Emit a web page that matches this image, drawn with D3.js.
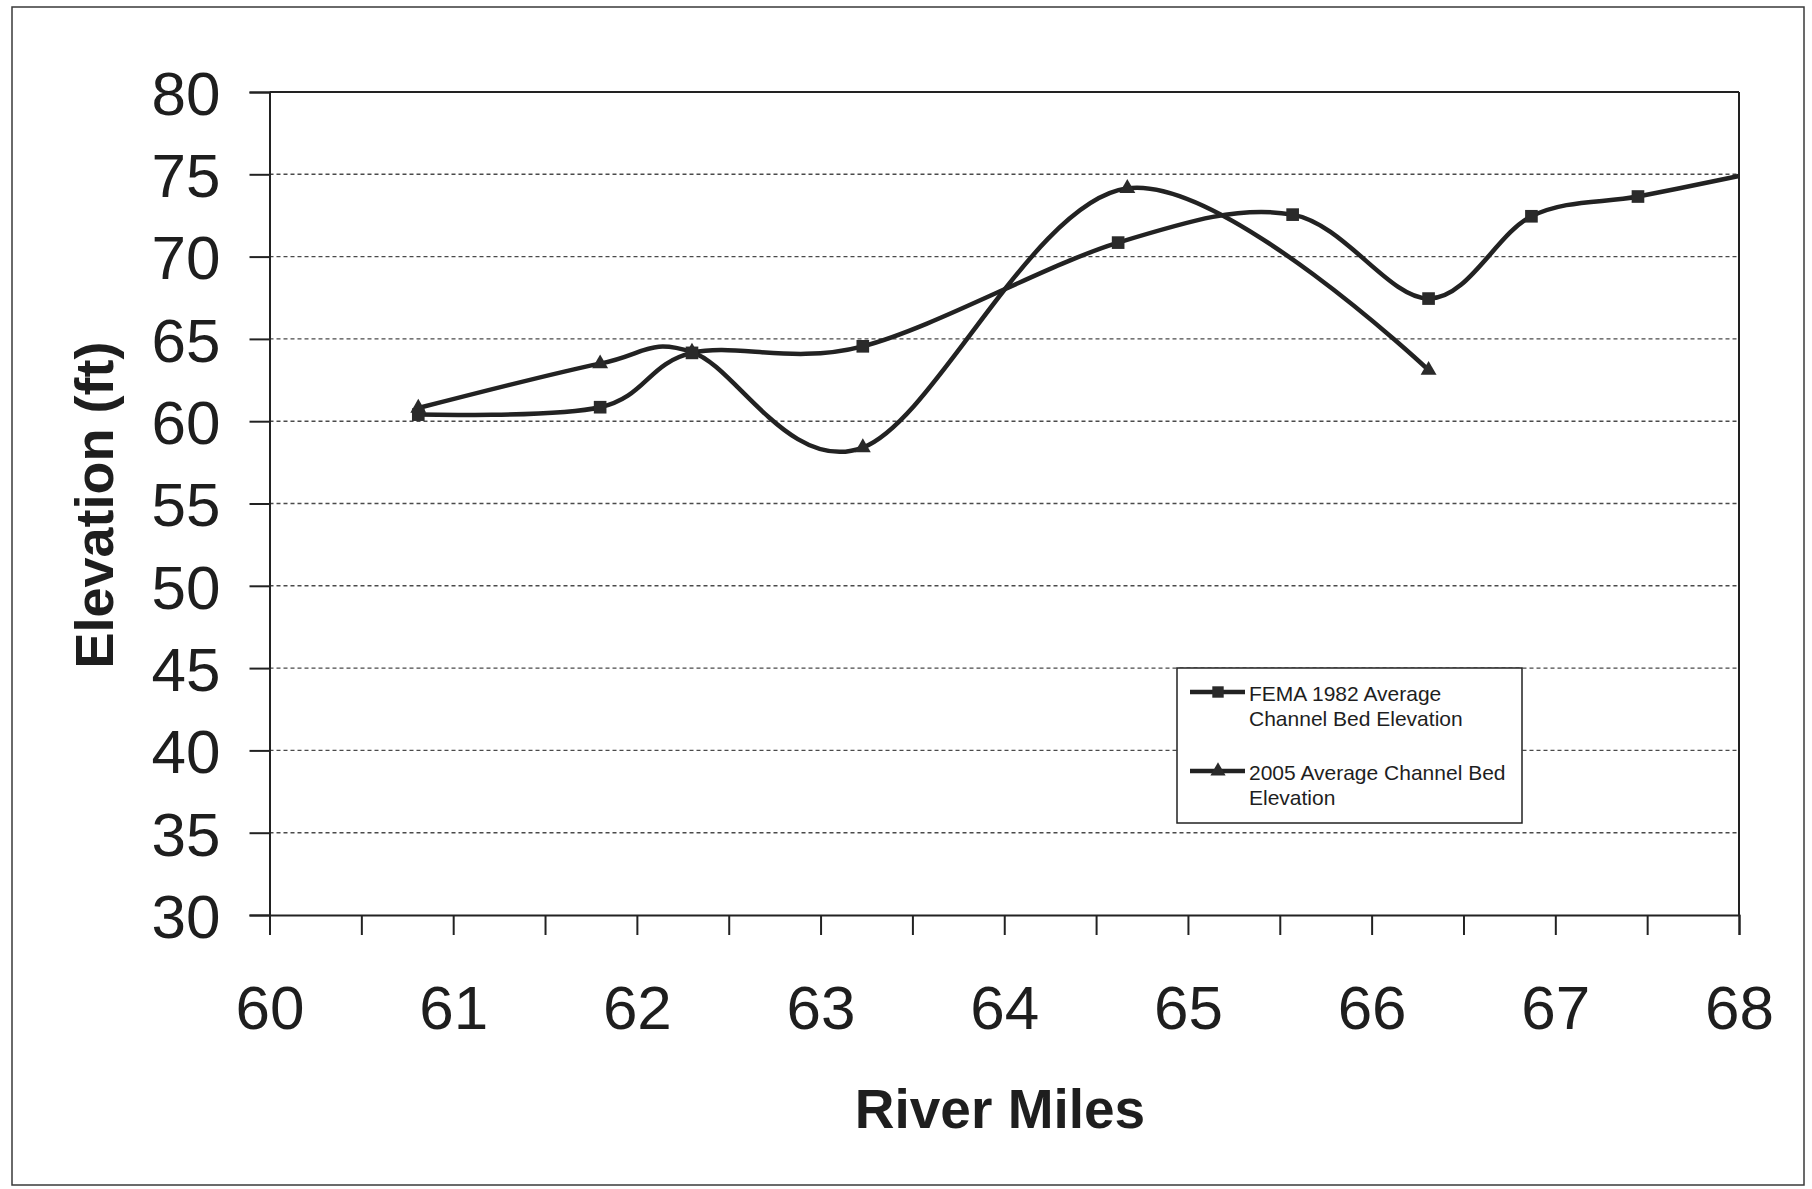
<!DOCTYPE html>
<html>
<head>
<meta charset="utf-8">
<script src="https://cdn.jsdelivr.net/npm/d3@7"></script>
<style>
  html, body { margin: 0; padding: 0; background: #fff; }
  svg { display: block; }
  text { font-family: "Liberation Sans", Arial, sans-serif; fill: #1e1e1e; }
</style>
</head>
<body>
<svg id="chart" width="1812" height="1189"></svg>
<script>
// River mile stations and average channel bed elevations (ft)
const femaMiles = [60.81, 61.80, 62.30, 63.23, 64.62, 65.57, 66.31, 66.87, 67.45, 68.00];
const femaElev  = [60.4, 60.85, 64.15, 64.55, 70.85, 72.55, 67.45, 72.45, 73.65, 74.9];

const survey2005Miles = [60.81, 61.80, 62.30, 63.23, 64.67, 66.31];
const survey2005Elev  = [60.8, 63.5, 64.2, 58.4, 74.15, 63.1];

const xTickValues = [60, 61, 62, 63, 64, 65, 66, 67, 68];
const yTickValues = [30, 35, 40, 45, 50, 55, 60, 65, 70, 75, 80];

const seriesNames = [
  ["FEMA 1982 Average", "Channel Bed Elevation"],
  ["2005 Average Channel Bed", "Elevation"]
];

const svg = d3.select("#chart");
const ink = "#222";

// outer chart frame
svg.append("rect")
  .attr("x", 12).attr("y", 7).attr("width", 1792).attr("height", 1178)
  .attr("fill", "none").attr("stroke", "#3a3a3a").attr("stroke-width", 1.5);

const plotLeft = 269.5, plotRight = 1739, plotTop = 92, plotBottom = 915;

const x = d3.scaleLinear().domain([60, 68]).range([plotLeft, plotRight]);
const y = d3.scaleLinear().domain([30, 80]).range([plotBottom, plotTop]);

// horizontal gridlines
svg.append("g").selectAll("line")
  .data(yTickValues.filter(v => v > 30 && v < 80))
  .join("line")
  .attr("x1", plotLeft).attr("x2", plotRight)
  .attr("y1", d => y(d)).attr("y2", d => y(d))
  .attr("stroke", "#4a4a4a").attr("stroke-width", 1.4)
  .attr("stroke-dasharray", "4,3");

// plot area top and right edges
svg.append("line").attr("x1", plotLeft).attr("x2", plotRight).attr("y1", plotTop).attr("y2", plotTop)
  .attr("stroke", ink).attr("stroke-width", 2);
svg.append("line").attr("x1", plotRight).attr("x2", plotRight).attr("y1", plotTop).attr("y2", plotBottom)
  .attr("stroke", ink).attr("stroke-width", 2);

// y axis
const yAxis = d3.axisLeft(y).tickValues(yTickValues).tickSize(20).tickPadding(29)
  .tickFormat(d3.format("d"));
const gy = svg.append("g").attr("transform", `translate(${plotLeft},0)`).call(yAxis);
gy.select(".domain").attr("stroke", ink).attr("stroke-width", 2);
gy.selectAll(".tick line").attr("stroke", ink).attr("stroke-width", 2);
gy.selectAll(".tick text")
  .style("font-family", '"Liberation Sans", Arial, sans-serif')
  .style("font-size", "62px").attr("fill", "#1e1e1e").attr("dy", "0.36em");

// x axis with half-mile minor ticks
const xAxisMinor = d3.axisBottom(x).tickValues(d3.range(60, 68.01, 0.5)).tickSize(20).tickFormat("");
const gxm = svg.append("g").attr("transform", `translate(0,${plotBottom})`).call(xAxisMinor);
gxm.select(".domain").attr("stroke", ink).attr("stroke-width", 2);
gxm.selectAll(".tick line").attr("stroke", ink).attr("stroke-width", 2);

const xAxis = d3.axisBottom(x).tickValues(xTickValues).tickSize(0).tickPadding(70)
  .tickFormat(d3.format("d"));
const gx = svg.append("g").attr("transform", `translate(0,${plotBottom})`).call(xAxis);
gx.select(".domain").remove();
gx.selectAll(".tick text")
  .style("font-family", '"Liberation Sans", Arial, sans-serif')
  .style("font-size", "62px").attr("fill", "#1e1e1e").attr("dy", "0.71em");

// axis titles
svg.append("text")
  .attr("x", 1000).attr("y", 1128)
  .attr("text-anchor", "middle")
  .style("font-size", "55px").style("font-weight", "bold")
  .text("River Miles");

svg.append("text")
  .attr("transform", "translate(113,505) rotate(-90)")
  .attr("text-anchor", "middle")
  .style("font-size", "54px").style("font-weight", "bold")
  .text("Elevation (ft)");

// smoothed series lines
const line = d3.line()
  .x(d => x(d[0])).y(d => y(d[1]))
  .curve(d3.curveCardinal.tension(0));

const fema = femaMiles.map((m, i) => [m, femaElev[i]]);
const s2005 = survey2005Miles.map((m, i) => [m, survey2005Elev[i]]);

svg.append("path").datum(s2005).attr("d", line)
  .attr("fill", "none").attr("stroke", ink).attr("stroke-width", 4.5)
  .attr("stroke-linejoin", "round");
svg.append("path").datum(fema).attr("d", line)
  .attr("fill", "none").attr("stroke", ink).attr("stroke-width", 4.5)
  .attr("stroke-linejoin", "round");

const triangle = d3.symbol().type(d3.symbolTriangle).size(110);
const square = d3.symbol().type(d3.symbolSquare).size(160);

svg.append("g").selectAll("path")
  .data(s2005).join("path")
  .attr("transform", d => `translate(${x(d[0])},${y(d[1])})`)
  .attr("d", triangle).attr("fill", "#2a2a2a");

svg.append("g").selectAll("path")
  .data(fema.filter(d => d[0] < 68)).join("path")
  .attr("transform", d => `translate(${x(d[0])},${y(d[1])})`)
  .attr("d", square).attr("fill", "#2a2a2a");

// legend
const lg = svg.append("g");
lg.append("rect")
  .attr("x", 1177).attr("y", 668).attr("width", 345).attr("height", 155)
  .attr("fill", "#fff").attr("stroke", ink).attr("stroke-width", 1.5);

const legendRows = [
  { y: 692, shape: d3.symbolSquare, size: 130, lines: seriesNames[0] },
  { y: 771, shape: d3.symbolTriangle, size: 100, lines: seriesNames[1] }
];
legendRows.forEach(r => {
  lg.append("line").attr("x1", 1190).attr("x2", 1245).attr("y1", r.y).attr("y2", r.y)
    .attr("stroke", ink).attr("stroke-width", 4.5);
  lg.append("path").attr("transform", `translate(1218,${r.y})`)
    .attr("d", d3.symbol().type(r.shape).size(r.size)())
    .attr("fill", "#2a2a2a");
  r.lines.forEach((t, i) => {
    lg.append("text")
      .attr("x", 1249).attr("y", r.y + 9 + i * 25)
      .style("font-size", "21px")
      .text(t);
  });
});
</script>
</body>
</html>
